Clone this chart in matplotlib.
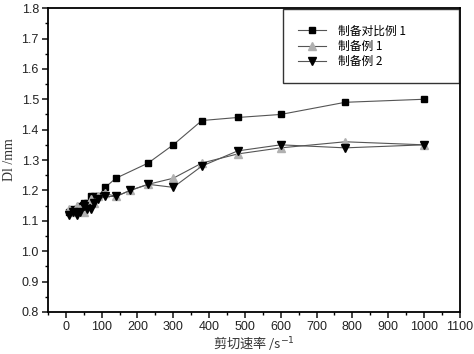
import numpy as np
import matplotlib.pyplot as plt
from matplotlib.ticker import MultipleLocator

plt.rcParams['font.family'] = ['Liberation Sans', 'Noto Sans CJK SC']

# shear rate (1/s) and D1 (mm)
x_ref = [10, 20, 30, 40, 50, 60, 70, 80, 90, 110, 140, 230, 300, 380, 480, 600, 780, 1000]
y_ref = [1.13, 1.14, 1.14, 1.15, 1.16, 1.16, 1.18, 1.18, 1.18, 1.21, 1.24, 1.29, 1.35, 1.43, 1.44, 1.45, 1.49, 1.50]

x_ex1 = [10, 20, 30, 40, 50, 60, 70, 80, 90, 110, 140, 180, 230, 300, 380, 480, 600, 780, 1000]
y_ex1 = [1.14, 1.13, 1.15, 1.14, 1.13, 1.15, 1.17, 1.16, 1.18, 1.19, 1.18, 1.20, 1.22, 1.24, 1.29, 1.32, 1.34, 1.36, 1.35]

x_ex2 = [10, 20, 30, 40, 50, 60, 70, 80, 90, 110, 140, 180, 230, 300, 380, 480, 600, 780, 1000]
y_ex2 = [1.12, 1.13, 1.12, 1.13, 1.15, 1.14, 1.14, 1.16, 1.17, 1.18, 1.18, 1.20, 1.22, 1.21, 1.28, 1.33, 1.35, 1.34, 1.35]

fig = plt.figure(figsize=(4.74, 3.54), dpi=100)
ax = fig.add_axes([0.101, 0.119, 0.869, 0.858])

ax.plot(x_ref, y_ref, c='#555555', linewidth=0.8, marker='s', markersize=5,
        markerfacecolor='k', markeredgecolor='k', label='制备对比例 1')
ax.plot(x_ex1, y_ex1, c='#555555', linewidth=0.8, marker='^', markersize=6,
        markerfacecolor='#b0b0b0', markeredgecolor='#b0b0b0', label='制备例 1')
ax.plot(x_ex2, y_ex2, c='#555555', linewidth=0.8, marker='v', markersize=6,
        markerfacecolor='k', markeredgecolor='k', label='制备例 2')

ax.set_xlim(-50, 1100)
ax.set_ylim(0.8, 1.8)
ax.xaxis.set_major_locator(MultipleLocator(100))
ax.xaxis.set_minor_locator(MultipleLocator(50))
ax.yaxis.set_major_locator(MultipleLocator(0.1))
ax.yaxis.set_minor_locator(MultipleLocator(0.05))
ax.yaxis.set_major_formatter(plt.FuncFormatter(lambda v, p: '%.1f' % v))
ax.tick_params(which='major', direction='out', length=4, width=1.2, labelsize=9,
               colors='#222222', pad=2.5)
ax.tick_params(which='minor', direction='out', length=2.5, width=1.0)
ax.tick_params(top=False, right=False)
for s in ax.spines.values():
    s.set_linewidth(1.3)

ax.set_xlabel('剪切速率 /s$^{-1}$', fontsize=9.5, family=['Noto Sans CJK SC', 'DejaVu Sans'],
              color='#333333', labelpad=1)
ax.set_ylabel('Dl /mm', fontsize=10, family='Liberation Serif', color='#333333', labelpad=4)

leg = ax.legend(loc='upper left', bbox_to_anchor=(0.57, 0.997, 0.428, 0.0), mode='expand',
                frameon=True, fancybox=False, edgecolor='k', borderpad=1.3,
                handlelength=2.4, handletextpad=1.0, borderaxespad=0.0, labelspacing=0.2,
                prop={'family': ['Noto Sans CJK SC'], 'size': 8.5})
leg.get_frame().set_linewidth(1.0)

plt.savefig('out.png', dpi=100)
